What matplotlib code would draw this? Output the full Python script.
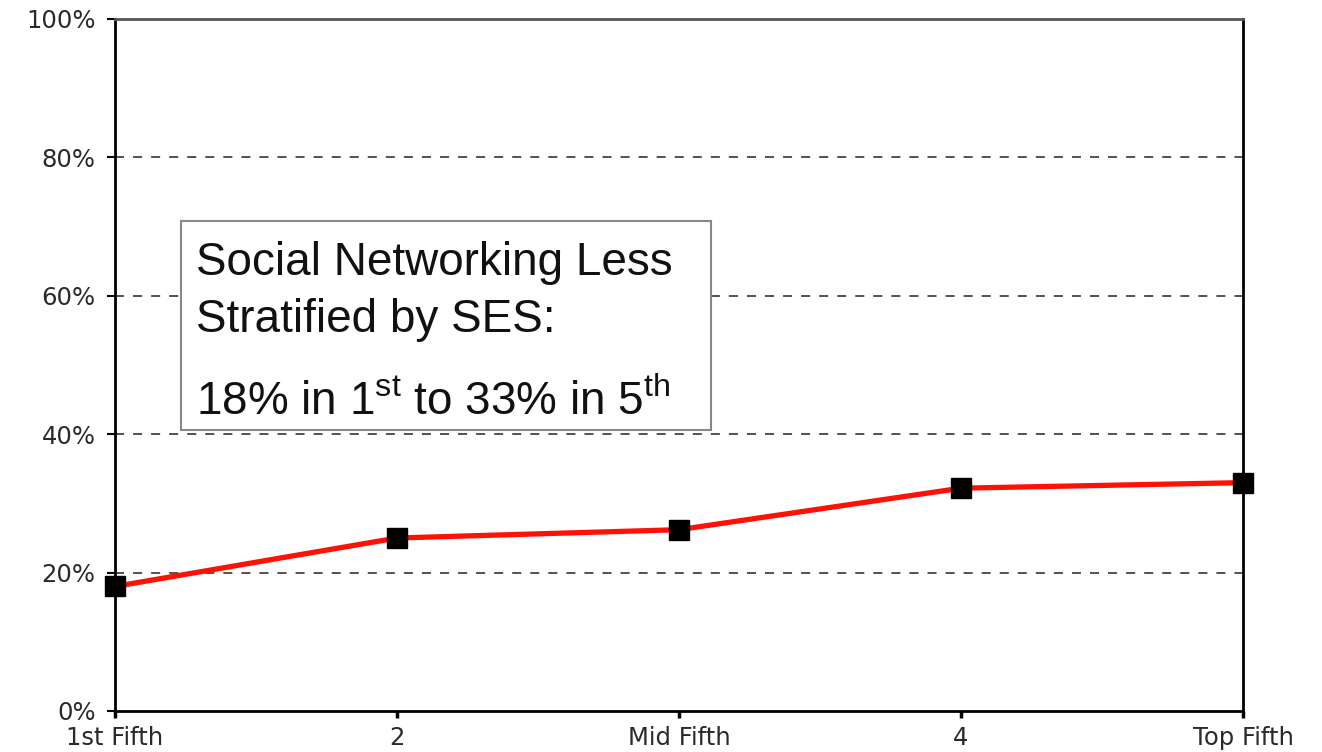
import matplotlib
matplotlib.use("Agg")
import matplotlib.pyplot as plt
from matplotlib.patches import Rectangle
from matplotlib.ticker import FuncFormatter

plt.rcParams['font.family'] = ['Liberation Sans', 'DejaVu Sans']
plt.rcParams['mathtext.fontset'] = 'custom'
plt.rcParams['mathtext.rm'] = 'Liberation Sans'
plt.rcParams['mathtext.it'] = 'Liberation Sans'

categories = ["1st Fifth", "2", "Mid Fifth", "4", "Top Fifth"]
share_pct = [18, 25, 26.2, 32.2, 33]
y_ticks = [0, 20, 40, 60, 80, 100]

W, H = 1322, 752
fig = plt.figure(figsize=(W / 100, H / 100), dpi=100)
ax = fig.add_axes([115 / W, 1 - 711 / H, (1243 - 115) / W, (711 - 19) / H])

x = list(range(len(categories)))
ax.plot(x, share_pct, color="#ff1205", lw=3.8, zorder=3, solid_capstyle="butt")
ax.plot(x, share_pct, ls="none", marker="s", ms=14, color="black", zorder=4, clip_on=False)

tick_font = dict(family="DejaVu Sans", size=17.5, color="#2a2a2a")

ax.set_xlim(0, len(categories) - 1)
ax.set_ylim(0, 100)
ax.set_xticks(x)
ax.set_xticklabels(categories, **tick_font)
ax.set_yticks(y_ticks)
ax.set_yticklabels([f"{v}%" for v in y_ticks], **tick_font)
ax.tick_params(axis="y", length=6, width=1.5, pad=8, direction="out")
ax.tick_params(axis="x", length=5, width=2.5, pad=6, direction="out")

for v in y_ticks[1:-1]:
    ax.axhline(v, color="#444444", lw=1.3, ls=(0, (5, 5)), zorder=1)

for side in ["left", "right", "bottom"]:
    ax.spines[side].set_linewidth(2)
    ax.spines[side].set_color("black")
ax.spines["top"].set_linewidth(2)
ax.spines["top"].set_color("#555555")

# annotation box
box = Rectangle((181 / W, 1 - 430 / H), (711 - 181) / W, (430 - 221) / H,
                transform=fig.transFigure, facecolor="white", edgecolor="#888888",
                lw=1.5, zorder=5)
fig.patches.append(box)
fig.text(196 / W, 1 - 275 / H, "Social Networking Less", fontsize=33, color="#111111",
         va="baseline", zorder=6)
fig.text(196 / W, 1 - 332 / H, "Stratified by SES:", fontsize=33, color="#111111",
         va="baseline", zorder=6)
fig.text(196 / W, 1 - 415 / H, r"18% in 1$^{\mathrm{st}}$ to 33% in 5$^{\mathrm{th}}$",
         fontsize=33, color="#111111", va="baseline", zorder=6)

fig.savefig("out.png", dpi=100, facecolor="white")
